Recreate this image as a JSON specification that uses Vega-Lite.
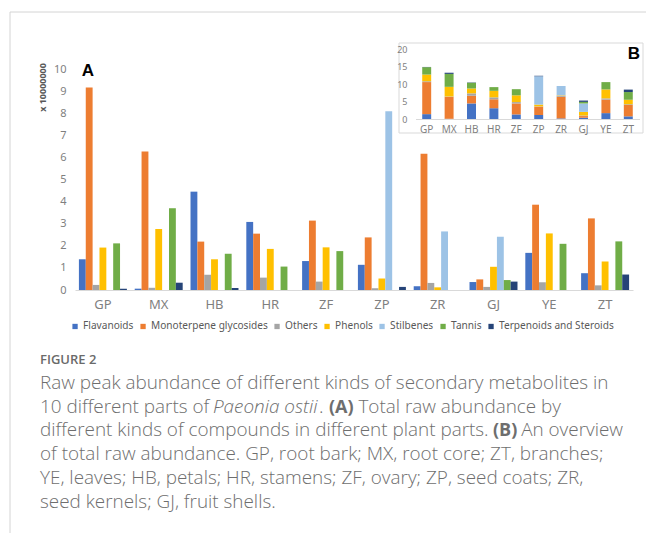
{
  "$schema": "https://vega.github.io/schema/vega-lite/v6.json",
  "width": 558,
  "height": 221,
  "autosize": {"type": "none"},
  "padding": {"left": 75, "top": 69, "right": 13, "bottom": 243},
  "background": "white",
  "config": {
    "view": {"stroke": null},
    "font": "Noto Sans",
    "axis": {"grid": false, "ticks": false, "tickSize": 0}
  },
  "datasets": {
    "abund": [
      {"part": "GP", "kind": "Flavanoids", "value": 1.39},
      {"part": "GP", "kind": "Monoterpene glycosides", "value": 9.16},
      {"part": "GP", "kind": "Others", "value": 0.23},
      {"part": "GP", "kind": "Phenols", "value": 1.92},
      {"part": "GP", "kind": "Stilbenes", "value": 0},
      {"part": "GP", "kind": "Tannis", "value": 2.11},
      {"part": "GP", "kind": "Terpenoids and Steroids", "value": 0.06},
      {"part": "MX", "kind": "Flavanoids", "value": 0.06},
      {"part": "MX", "kind": "Monoterpene glycosides", "value": 6.27},
      {"part": "MX", "kind": "Others", "value": 0.1},
      {"part": "MX", "kind": "Phenols", "value": 2.76},
      {"part": "MX", "kind": "Stilbenes", "value": 0},
      {"part": "MX", "kind": "Tannis", "value": 3.7},
      {"part": "MX", "kind": "Terpenoids and Steroids", "value": 0.33},
      {"part": "HB", "kind": "Flavanoids", "value": 4.45},
      {"part": "HB", "kind": "Monoterpene glycosides", "value": 2.19},
      {"part": "HB", "kind": "Others", "value": 0.69},
      {"part": "HB", "kind": "Phenols", "value": 1.39},
      {"part": "HB", "kind": "Stilbenes", "value": 0},
      {"part": "HB", "kind": "Tannis", "value": 1.64},
      {"part": "HB", "kind": "Terpenoids and Steroids", "value": 0.09},
      {"part": "HR", "kind": "Flavanoids", "value": 3.08},
      {"part": "HR", "kind": "Monoterpene glycosides", "value": 2.55},
      {"part": "HR", "kind": "Others", "value": 0.56},
      {"part": "HR", "kind": "Phenols", "value": 1.86},
      {"part": "HR", "kind": "Stilbenes", "value": 0},
      {"part": "HR", "kind": "Tannis", "value": 1.06},
      {"part": "HR", "kind": "Terpenoids and Steroids", "value": 0},
      {"part": "ZF", "kind": "Flavanoids", "value": 1.31},
      {"part": "ZF", "kind": "Monoterpene glycosides", "value": 3.14},
      {"part": "ZF", "kind": "Others", "value": 0.38},
      {"part": "ZF", "kind": "Phenols", "value": 1.93},
      {"part": "ZF", "kind": "Stilbenes", "value": 0},
      {"part": "ZF", "kind": "Tannis", "value": 1.76},
      {"part": "ZF", "kind": "Terpenoids and Steroids", "value": 0},
      {"part": "ZP", "kind": "Flavanoids", "value": 1.14},
      {"part": "ZP", "kind": "Monoterpene glycosides", "value": 2.38},
      {"part": "ZP", "kind": "Others", "value": 0.08},
      {"part": "ZP", "kind": "Phenols", "value": 0.52},
      {"part": "ZP", "kind": "Stilbenes", "value": 8.09},
      {"part": "ZP", "kind": "Tannis", "value": 0},
      {"part": "ZP", "kind": "Terpenoids and Steroids", "value": 0.14},
      {"part": "ZR", "kind": "Flavanoids", "value": 0.17},
      {"part": "ZR", "kind": "Monoterpene glycosides", "value": 6.17},
      {"part": "ZR", "kind": "Others", "value": 0.32},
      {"part": "ZR", "kind": "Phenols", "value": 0.12},
      {"part": "ZR", "kind": "Stilbenes", "value": 2.65},
      {"part": "ZR", "kind": "Tannis", "value": 0},
      {"part": "ZR", "kind": "Terpenoids and Steroids", "value": 0},
      {"part": "GJ", "kind": "Flavanoids", "value": 0.36},
      {"part": "GJ", "kind": "Monoterpene glycosides", "value": 0.48},
      {"part": "GJ", "kind": "Others", "value": 0.14},
      {"part": "GJ", "kind": "Phenols", "value": 1.05},
      {"part": "GJ", "kind": "Stilbenes", "value": 2.41},
      {"part": "GJ", "kind": "Tannis", "value": 0.45},
      {"part": "GJ", "kind": "Terpenoids and Steroids", "value": 0.38},
      {"part": "YE", "kind": "Flavanoids", "value": 1.68},
      {"part": "YE", "kind": "Monoterpene glycosides", "value": 3.86},
      {"part": "YE", "kind": "Others", "value": 0.35},
      {"part": "YE", "kind": "Phenols", "value": 2.56},
      {"part": "YE", "kind": "Stilbenes", "value": 0},
      {"part": "YE", "kind": "Tannis", "value": 2.09},
      {"part": "YE", "kind": "Terpenoids and Steroids", "value": 0},
      {"part": "ZT", "kind": "Flavanoids", "value": 0.76},
      {"part": "ZT", "kind": "Monoterpene glycosides", "value": 3.24},
      {"part": "ZT", "kind": "Others", "value": 0.21},
      {"part": "ZT", "kind": "Phenols", "value": 1.29},
      {"part": "ZT", "kind": "Stilbenes", "value": 0},
      {"part": "ZT", "kind": "Tannis", "value": 2.2},
      {"part": "ZT", "kind": "Terpenoids and Steroids", "value": 0.7}
    ],
    "caption": [
      {"seg": "Raw peak abundance of different kinds of secondary metabolites in", "cx": 40, "line": 1, "style": "normal", "weight": 300, "al": "left"},
      {"seg": "10 different parts of", "cx": 40, "line": 2, "style": "normal", "weight": 300, "al": "left"},
      {"seg": "Paeonia ostii", "cx": 213, "line": 2, "style": "italic", "weight": 300, "al": "left"},
      {"seg": ".", "cx": 319, "line": 2, "style": "normal", "weight": 300, "al": "left"},
      {"seg": "(A)", "cx": 329, "line": 2, "style": "normal", "weight": 700, "al": "left"},
      {"seg": "Total raw abundance by", "cx": 561, "line": 2, "style": "normal", "weight": 300, "al": "right"},
      {"seg": "different kinds of compounds in different plant parts.", "cx": 40, "line": 3, "style": "normal", "weight": 300, "al": "left"},
      {"seg": "(B)", "cx": 493, "line": 3, "style": "normal", "weight": 700, "al": "left"},
      {"seg": "An overview", "cx": 623, "line": 3, "style": "normal", "weight": 300, "al": "right"},
      {"seg": "of total raw abundance. GP, root bark; MX, root core; ZT, branches;", "cx": 40, "line": 4, "style": "normal", "weight": 300, "al": "left"},
      {"seg": "YE, leaves; HB, petals; HR, stamens; ZF, ovary; ZP, seed coats; ZR,", "cx": 40, "line": 5, "style": "normal", "weight": 300, "al": "left"},
      {"seg": "seed kernels; GJ, fruit shells.", "cx": 40, "line": 6, "style": "normal", "weight": 300, "al": "left"}
    ]
  },
  "data": {"name": "abund"},
  "resolve": {"scale": {"x": "independent", "y": "independent", "xOffset": "independent"}, "axis": {"x": "independent", "y": "independent"}},
  "layer": [
    {
      "mark": {"type": "rule", "stroke": "#d4d4d4", "strokeWidth": 1},
      "data": {"values": [{}]},
      "encoding": {"x": {"value": -65}, "x2": {"value": 575}, "y": {"value": -57}}
    },
    {
      "mark": {"type": "rule", "stroke": "#d4d4d4", "strokeWidth": 1},
      "data": {"values": [{}]},
      "encoding": {"x": {"value": -65}, "y": {"value": -57}, "y2": {"value": 470}}
    },
    {
      "mark": {"type": "bar", "orient": "vertical"},
      "encoding": {
        "x": {
          "field": "part", "type": "nominal", "sort": null,
          "scale": {"paddingInner": 0.14, "paddingOuter": 0.07},
          "axis": {"title": null, "labelAngle": 0, "labelFontSize": 13, "labelColor": "#7f7f7f", "labelPadding": 8, "domainColor": "#d9d9d9", "orient": "bottom"}
        },
        "xOffset": {"field": "kind", "type": "nominal", "scale": {"paddingInner": 0, "paddingOuter": 0}},
        "y": {
          "field": "value", "type": "quantitative",
          "scale": {"domain": [0, 10], "nice": false},
          "axis": {"title": "x 10000000", "values": [0,1,2,3,4,5,6,7,8,9,10], "domain": false, "labelFontSize": 11, "labelColor": "#7f7f7f", "labelPadding": 9, "orient": "left",
                   "titleAngle": -90, "titleX": -33, "titleY": 18, "titleAlign": "center", "titleBaseline": "middle", "titleFontSize": 9, "titleFontWeight": "bold", "titleColor": "#595959"}
        },
        "color": {
          "field": "kind", "type": "nominal",
          "scale": {
            "domain": ["Flavanoids", "Monoterpene glycosides", "Others", "Phenols", "Stilbenes", "Tannis", "Terpenoids and Steroids"],
            "range": ["#4472C4", "#ED7D31", "#A5A5A5", "#FFC000", "#9DC3E6", "#70AD47", "#264478"]
          },
          "legend": {
            "title": null, "orient": "none", "direction": "horizontal", "legendX": -5, "legendY": 252,
            "symbolType": "square", "symbolSize": 28, "symbolStrokeWidth": 0, "labelFontSize": 10.1, "labelColor": "#595959",
            "labelOffset": 3, "columnPadding": 4, "padding": 0
          }
        }
      }
    },
    {
      "mark": {"type": "rect", "fill": "white", "stroke": "#d9d9d9", "strokeWidth": 1},
      "data": {"values": [{}]},
      "encoding": {"x": {"value": 324}, "x2": {"value": 568}, "y": {"value": -26}, "y2": {"value": 64}}
    },
    {
      "mark": {"type": "bar"},
      "encoding": {
        "x": {
          "field": "part", "type": "nominal", "sort": null,
          "scale": {"range": [340.5, 564.5], "paddingInner": 0.6, "paddingOuter": 0.3},
          "axis": {"title": null, "orient": "bottom", "offset": -171, "zindex": 2, "labelAngle": 0, "labelFontSize": 10, "labelColor": "#7f7f7f", "labelPadding": 5, "domainColor": "#d9d9d9"}
        },
        "y": {
          "field": "value", "type": "quantitative", "stack": "zero",
          "scale": {"domain": [0, 20], "range": [50, -20], "nice": false},
          "axis": {"title": null, "orient": "left", "offset": -335, "zindex": 2, "values": [0, 5, 10, 15, 20], "domain": false, "labelFontSize": 9, "labelColor": "#7f7f7f", "labelPadding": 3}
        },
        "order": {"field": "kind", "sort": "ascending"},
        "color": {"field": "kind", "type": "nominal", "legend": null}
      }
    },
    {
      "mark": {"type": "text", "font": "Liberation Sans", "fontWeight": "bold", "fontSize": 17, "align": "center", "baseline": "middle", "color": "black"},
      "data": {"values": [{}]},
      "encoding": {"x": {"value": 13}, "y": {"value": 2}, "text": {"value": "A"}}
    },
    {
      "mark": {"type": "text", "font": "Liberation Sans", "fontWeight": "bold", "fontSize": 17, "align": "center", "baseline": "middle", "color": "black"},
      "data": {"values": [{}]},
      "encoding": {"x": {"value": 559}, "y": {"value": -15}, "text": {"value": "B"}}
    },
    {
      "mark": {"type": "text", "font": "Open Sans", "fontWeight": 600, "fontSize": 13, "align": "left", "baseline": "middle", "color": "#6a6a6a"},
      "data": {"values": [{}]},
      "encoding": {"x": {"value": -35}, "y": {"value": 290.5}, "text": {"value": "FIGURE 2"}}
    },
    {
      "data": {"name": "caption"},
      "transform": [
        {"calculate": "datum.cx - 75", "as": "px"},
        {"calculate": "320 + (datum.line - 1) * 23.7", "as": "py"}
      ],
      "layer": [
        {
          "transform": [{"filter": "datum.al == 'left' && datum.style == 'normal' && datum.weight == 300"}],
          "mark": {"type": "text", "font": "Open Sans", "fontSize": 18.9, "fontWeight": 300, "align": "left", "baseline": "alphabetic", "color": "#6e6e6e"},
          "encoding": {"x": {"field": "px", "type": "quantitative", "scale": null}, "y": {"field": "py", "type": "quantitative", "scale": null}, "text": {"field": "seg"}}
        },
        {
          "transform": [{"filter": "datum.al == 'right'"}],
          "mark": {"type": "text", "font": "Open Sans", "fontSize": 18.9, "fontWeight": 300, "align": "right", "baseline": "alphabetic", "color": "#6e6e6e"},
          "encoding": {"x": {"field": "px", "type": "quantitative", "scale": null}, "y": {"field": "py", "type": "quantitative", "scale": null}, "text": {"field": "seg"}}
        },
        {
          "transform": [{"filter": "datum.style == 'italic'"}],
          "mark": {"type": "text", "font": "Open Sans", "fontSize": 18.9, "fontWeight": 300, "fontStyle": "italic", "align": "left", "baseline": "alphabetic", "color": "#6e6e6e"},
          "encoding": {"x": {"field": "px", "type": "quantitative", "scale": null}, "y": {"field": "py", "type": "quantitative", "scale": null}, "text": {"field": "seg"}}
        },
        {
          "transform": [{"filter": "datum.weight == 700"}],
          "mark": {"type": "text", "font": "Open Sans", "fontSize": 18, "fontWeight": 700, "align": "left", "baseline": "alphabetic", "color": "#6e6e6e"},
          "encoding": {"x": {"field": "px", "type": "quantitative", "scale": null}, "y": {"field": "py", "type": "quantitative", "scale": null}, "text": {"field": "seg"}}
        }
      ]
    }
  ]
}
